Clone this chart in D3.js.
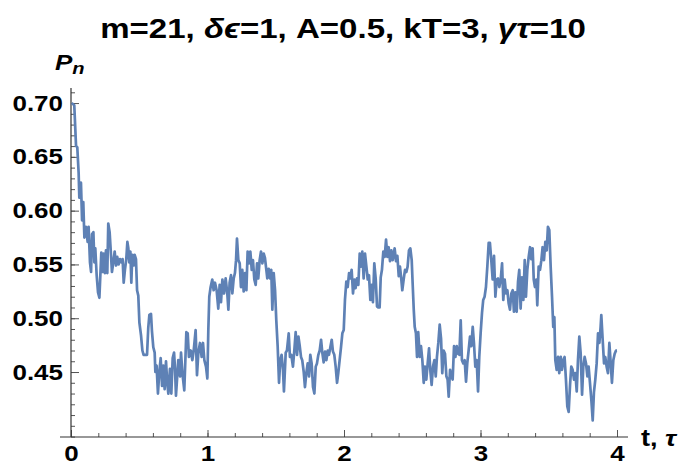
<!DOCTYPE html>
<html>
<head>
<meta charset="utf-8">
<script src="https://cdn.jsdelivr.net/npm/d3@7"></script>
<style>
  body { margin: 0; background: #fff; }
  text { font-family: "Liberation Sans", Arial, sans-serif; font-weight: bold; }
</style>
</head>
<body>
<div id="chart"></div>
<script>
// tick values
const xMajor = [0, 1, 2, 3, 4];
const xMinor = d3.range(0, 4.001, 0.2).map(d => +d.toFixed(1));
const yMajor = [0.45, 0.50, 0.55, 0.60, 0.65, 0.70];
const yMinor = d3.range(39, 72).map(d => d / 100);

// [t, P_n]
const series = [
  [0.005,0.700],[0.024,0.698],[0.037,0.660],[0.046,0.659],[0.056,0.635],[0.061,0.612],[0.073,0.626],[0.081,0.591],
  [0.090,0.608],[0.098,0.575],[0.110,0.585],[0.122,0.571],[0.129,0.585],[0.139,0.552],[0.147,0.543],[0.154,0.578],
  [0.164,0.580],[0.171,0.552],[0.178,0.565],[0.188,0.540],[0.198,0.524],[0.208,0.519],[0.215,0.540],[0.222,0.561],
  [0.232,0.543],[0.239,0.560],[0.249,0.542],[0.256,0.563],[0.266,0.542],[0.273,0.588],[0.283,0.580],[0.291,0.563],
  [0.300,0.543],[0.310,0.552],[0.320,0.562],[0.330,0.549],[0.339,0.557],[0.349,0.550],[0.359,0.555],[0.369,0.552],
  [0.378,0.555],[0.386,0.533],[0.396,0.546],[0.405,0.555],[0.413,0.571],[0.420,0.565],[0.427,0.552],[0.435,0.562],
  [0.442,0.533],[0.449,0.559],[0.459,0.549],[0.466,0.559],[0.476,0.555],[0.484,0.526],[0.493,0.521],[0.501,0.496],
  [0.513,0.484],[0.523,0.470],[0.532,0.466],[0.545,0.466],[0.557,0.466],[0.566,0.491],[0.574,0.503],[0.586,0.504],
  [0.593,0.488],[0.603,0.473],[0.613,0.468],[0.618,0.450],[0.627,0.456],[0.637,0.430],[0.647,0.450],[0.657,0.463],
  [0.667,0.437],[0.676,0.456],[0.686,0.434],[0.696,0.460],[0.705,0.440],[0.713,0.430],[0.725,0.453],[0.735,0.430],
  [0.745,0.463],[0.755,0.468],[0.762,0.453],[0.769,0.428],
  [0.786,0.461],[0.799,0.446],[0.806,0.468],[0.816,0.449],[0.830,0.433],[0.845,0.487],[0.855,0.486],[0.864,0.464],
  [0.877,0.470],[0.889,0.461],[0.899,0.470],[0.913,0.489],[0.923,0.447],[0.933,0.468],[0.945,0.477],[0.957,0.464],
  [0.967,0.477],[0.977,0.461],[0.989,0.455],[0.999,0.444],[1.006,0.489],[1.013,0.520],[1.023,0.529],[1.035,0.536],
  [1.045,0.526],[1.055,0.533],[1.067,0.526],[1.079,0.509],[1.089,0.531],[1.099,0.515],[1.109,0.536],[1.121,0.523],
  [1.133,0.537],[1.145,0.523],[1.153,0.508],[1.162,0.533],[1.172,0.540],[1.182,0.523],[1.192,0.537],[1.201,0.542],
  [1.209,0.554],[1.216,0.574],[1.226,0.554],[1.236,0.551],[1.245,0.529],[1.255,0.545],[1.265,0.525],[1.275,0.542],
  [1.285,0.526],[1.294,0.562],[1.304,0.551],[1.314,0.562],[1.324,0.545],[1.333,0.554],[1.343,0.536],[1.353,0.531],
  [1.363,0.551],[1.372,0.537],[1.382,0.554],[1.392,0.562],[1.402,0.551],[1.412,0.560],[1.421,0.556],[1.431,0.545],
  [1.438,0.537],[1.448,0.546],[1.458,0.537],[1.467,0.545],[1.475,0.508],[1.485,0.542],[1.495,0.526],[1.504,0.498],
  [1.514,0.474],[1.524,0.440],[1.533,0.461],[1.543,0.466],[1.553,0.452],
  [1.560,0.432],[1.573,0.468],[1.582,0.470],[1.595,0.486],[1.604,0.464],[1.614,0.466],[1.626,0.455],[1.636,0.470],
  [1.646,0.487],[1.656,0.466],[1.666,0.483],[1.675,0.475],[1.685,0.464],[1.694,0.461],[1.705,0.450],[1.714,0.436],
  [1.724,0.449],[1.734,0.458],[1.744,0.446],[1.753,0.466],[1.763,0.458],[1.773,0.436],[1.783,0.430],[1.793,0.455],
  [1.802,0.458],[1.812,0.466],[1.822,0.470],[1.832,0.480],[1.841,0.468],[1.851,0.459],[1.861,0.469],[1.871,0.461],
  [1.881,0.470],[1.890,0.466],[1.900,0.473],[1.910,0.480],[1.919,0.469],[1.929,0.466],[1.939,0.455],[1.949,0.440],
  [1.958,0.449],[1.968,0.461],[1.978,0.473],[1.988,0.486],[1.998,0.489],[2.007,0.517],[2.017,0.534],[2.027,0.529],
  [2.037,0.542],[2.046,0.537],[2.056,0.545],[2.066,0.523],[2.076,0.536],[2.085,0.528],[2.095,0.537],[2.105,0.531],
  [2.115,0.560],[2.125,0.548],[2.134,0.562],[2.144,0.537],[2.154,0.560],[2.164,0.548],[2.174,0.536],[2.183,0.540],
  [2.193,0.517],[2.203,0.531],[2.212,0.515],[2.222,0.551],[2.232,0.537],[2.242,0.511],[2.251,0.510],[2.261,0.510],
  [2.269,0.538],[2.278,0.545],[2.288,0.562],[2.298,0.557],[2.308,0.573],[2.318,0.557],[2.327,0.566],[2.337,0.553],
  [2.347,0.563],[2.357,0.554],
  [2.371,0.565],[2.381,0.553],[2.391,0.558],[2.401,0.539],[2.410,0.548],[2.420,0.536],[2.427,0.526],[2.437,0.536],
  [2.447,0.545],[2.457,0.543],[2.466,0.548],[2.476,0.563],[2.486,0.565],[2.496,0.554],[2.503,0.532],[2.511,0.508],
  [2.518,0.492],[2.527,0.486],[2.535,0.464],[2.544,0.487],[2.555,0.464],[2.564,0.474],[2.574,0.461],[2.584,0.440],
  [2.593,0.455],[2.603,0.443],[2.613,0.458],[2.623,0.472],[2.632,0.452],[2.642,0.438],[2.652,0.455],[2.662,0.461],
  [2.672,0.446],[2.681,0.464],[2.691,0.477],[2.701,0.494],[2.711,0.481],[2.720,0.449],[2.730,0.470],[2.740,0.467],
  [2.750,0.446],[2.759,0.443],[2.767,0.427],[2.777,0.452],[2.786,0.446],[2.796,0.443],[2.806,0.474],[2.816,0.464],
  [2.826,0.474],[2.835,0.467],[2.845,0.466],[2.855,0.498],[2.864,0.461],[2.874,0.458],[2.884,0.461],[2.894,0.441],
  [2.903,0.458],[2.913,0.470],[2.923,0.483],[2.933,0.474],[2.943,0.492],[2.952,0.477],[2.962,0.455],[2.972,0.461],
  [2.982,0.432],[2.991,0.464],[3.001,0.486],[3.011,0.505],[3.020,0.517],[3.030,0.520],[3.040,0.529],[3.050,0.548],
  [3.060,0.570],[3.069,0.570],[3.079,0.554],[3.089,0.536],[3.099,0.558],[3.109,0.520],[3.119,0.536],[3.128,0.537],
  [3.138,0.529],[3.148,0.536],
  [3.158,0.551],[3.167,0.517],[3.177,0.536],[3.187,0.523],[3.197,0.526],[3.206,0.514],[3.216,0.508],[3.226,0.523],
  [3.236,0.526],[3.245,0.506],[3.255,0.524],[3.265,0.506],[3.275,0.534],[3.284,0.545],[3.294,0.509],[3.304,0.538],
  [3.314,0.517],[3.324,0.554],[3.333,0.520],[3.343,0.545],[3.353,0.557],[3.363,0.566],[3.372,0.555],[3.382,0.565],
  [3.390,0.536],[3.399,0.529],[3.409,0.536],[3.416,0.512],[3.426,0.548],[3.436,0.545],[3.446,0.554],[3.455,0.566],
  [3.465,0.554],[3.475,0.571],[3.485,0.563],[3.494,0.585],[3.504,0.582],[3.514,0.548],[3.524,0.520],[3.533,0.492],
  [3.541,0.501],[3.548,0.461],[3.558,0.452],[3.568,0.464],[3.577,0.449],[3.588,0.464],[3.597,0.452],[3.607,0.461],
  [3.616,0.464],[3.626,0.443],[3.636,0.418],[3.646,0.413],[3.656,0.438],[3.665,0.455],[3.675,0.452],[3.685,0.443],
  [3.695,0.449],[3.705,0.432],[3.714,0.461],[3.724,0.483],[3.734,0.467],[3.744,0.429],[3.753,0.455],[3.763,0.464],
  [3.773,0.458],[3.783,0.446],[3.792,0.455],[3.802,0.440],[3.812,0.424],[3.822,0.405],[3.831,0.431],[3.841,0.443],
  [3.851,0.458],[3.861,0.486],[3.871,0.477],[3.880,0.492],[3.885,0.503],[3.895,0.480],[3.905,0.458],[3.914,0.464],
  [3.924,0.455],[3.934,0.449],[3.944,0.477],[3.954,0.458],[3.963,0.440],[3.973,0.461],[3.983,0.467],[3.993,0.470],
  [4.000,0.470]
];

const w = 686;
const h = 470;
const widen = 1.18; // the reference glyphs are drawn a bit wider than Liberation Sans

const svg = d3.select("#chart")
  .append("svg")
  .attr("width", w)
  .attr("height", h);

//SCALES
const x = d3.scaleLinear().domain([0, 4]).range([71, 617]);
const y = d3.scaleLinear().domain([0.3896, 0.714]).range([437, 88]);
const axisY = y.domain()[0];

//stretch plain tick labels horizontally
function stretch(sel) {
  sel.each(function() {
    const len = this.getComputedTextLength();
    d3.select(this).attr("textLength", len * widen).attr("lengthAdjust", "spacingAndGlyphs");
  });
}

//Y AXIS: minor ticks, then major ticks with labels
svg.append("g")
  .attr("transform", `translate(${x(0)},0)`)
  .call(d3.axisRight(y).tickValues(yMinor).tickSize(4).tickFormat(""))
  .call(g => g.select(".domain").remove())
  .call(g => g.selectAll("line").attr("stroke", "#555"));

svg.append("g")
  .attr("transform", `translate(${x(0)},0)`)
  .call(d3.axisLeft(y).tickValues(yMajor).tickSize(-8).tickPadding(8).tickFormat(d3.format(".2f")))
  .call(g => g.select(".domain").remove())
  .call(g => g.selectAll("line").attr("stroke", "#555"))
  .call(g => g.selectAll("text").attr("font-size", 22).attr("fill", "#000")
    .attr("font-family", "'Liberation Sans', Arial, sans-serif").call(stretch));

//X AXIS
svg.append("g")
  .attr("transform", `translate(0,${y(axisY)})`)
  .call(d3.axisBottom(x).tickValues(xMinor).tickSize(-4).tickFormat(""))
  .call(g => g.select(".domain").remove())
  .call(g => g.selectAll("line").attr("stroke", "#555"));

svg.append("g")
  .attr("transform", `translate(0,${y(axisY)})`)
  .call(d3.axisBottom(x).tickValues(xMajor).tickSize(-7).tickPadding(8).tickFormat(d3.format("d")))
  .call(g => g.select(".domain").remove())
  .call(g => g.selectAll("line").attr("stroke", "#555"))
  .call(g => g.selectAll("text").attr("font-size", 22).attr("fill", "#000")
    .attr("font-family", "'Liberation Sans', Arial, sans-serif").call(stretch));

//axis lines
svg.append("line")
  .attr("x1", x(0) - 11).attr("x2", x(4) + 11)
  .attr("y1", y(axisY)).attr("y2", y(axisY))
  .attr("stroke", "#333").attr("stroke-width", 1.2);
svg.append("line")
  .attr("x1", x(0)).attr("x2", x(0))
  .attr("y1", y(axisY)).attr("y2", y(0.714))
  .attr("stroke", "#333").attr("stroke-width", 1.2);

//THE LINE
const line = d3.line()
  .x(d => x(d[0]))
  .y(d => y(d[1]));

svg.append("path")
  .datum(series)
  .attr("d", line)
  .attr("fill", "none")
  .attr("stroke", "#5E81B5")
  .attr("stroke-width", 2.7)
  .attr("stroke-linejoin", "round");

//TEXTS
const title = svg.append("text")
  .attr("transform", `translate(343,38) scale(${widen},1)`)
  .attr("text-anchor", "middle")
  .attr("font-size", 28);
title.append("tspan").text("m=21, ");
title.append("tspan").attr("font-style", "italic").text("δϵ");
title.append("tspan").text("=1, A=0.5, kT=3, ");
title.append("tspan").attr("font-style", "italic").text("γτ");
title.append("tspan").text("=10");

const yLabel = svg.append("text")
  .attr("transform", `translate(55,70) scale(${widen},1)`)
  .attr("font-size", 22)
  .attr("font-style", "italic");
yLabel.append("tspan").text("P");
yLabel.append("tspan").attr("font-size", 17).attr("dy", 4).text("n");

const xLabel = svg.append("text")
  .attr("transform", `translate(641,446) scale(${widen},1)`)
  .attr("font-size", 23);
xLabel.append("tspan").text("t, ");
xLabel.append("tspan").attr("font-style", "italic").text("τ");
</script>
</body>
</html>
